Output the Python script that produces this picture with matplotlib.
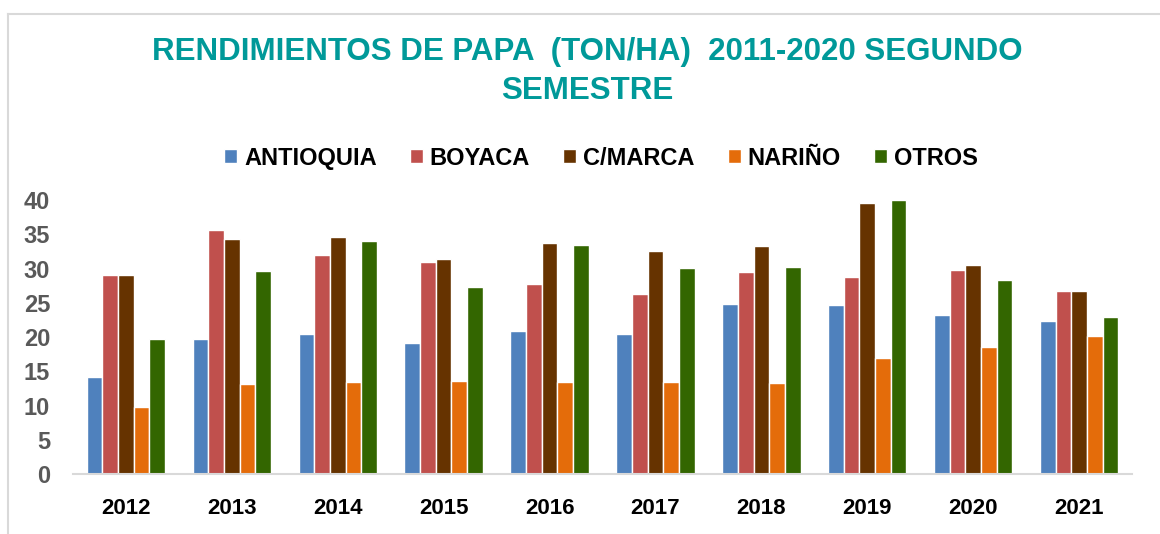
import matplotlib
matplotlib.use("Agg")
import matplotlib.pyplot as plt
from matplotlib.lines import Line2D
import numpy as np

years = ['2012', '2013', '2014', '2015', '2016', '2017', '2018', '2019', '2020', '2021']
departamentos = ['ANTIOQUIA', 'BOYACA', 'C/MARCA', 'NARIÑO', 'OTROS']

antioquia = [14.2, 19.8, 20.4, 19.2, 20.9, 20.5, 24.8, 24.7, 23.2, 22.4]
boyaca = [29.0, 35.6, 32.0, 30.9, 27.7, 26.3, 29.5, 28.7, 29.8, 26.8]
cmarca = [29.1, 34.3, 34.6, 31.4, 33.8, 32.6, 33.3, 39.6, 30.5, 26.8]
narino = [9.8, 13.1, 13.5, 13.6, 13.4, 13.4, 13.3, 16.9, 18.6, 20.2]
otros = [19.8, 29.7, 34.0, 27.3, 33.5, 30.1, 30.2, 40.0, 28.4, 22.9]

colores = ['#4f81bd', '#c0504d', '#663300', '#e46c0a', '#336600']

series = [antioquia, boyaca, cmarca, narino, otros]

fuente = ['Liberation Sans', 'DejaVu Sans']

fig = plt.figure(figsize=(11.6, 5.34), dpi=100)
ax = fig.add_axes([0.0629, 0.1118, 0.913, 0.5137])

x = np.arange(len(years))
w = 0.148
for i, (vals, nombre, col) in enumerate(zip(series, departamentos, colores)):
    ax.bar(x + (i - 2) * w, vals, width=w, color=col, edgecolor='white',
           linewidth=1.0, label=nombre, clip_on=False, zorder=3)

ax.set_xlim(-0.5, len(years) - 0.5)
ax.set_ylim(0, 40)
ax.set_yticks(range(0, 45, 5))
ax.set_xticks(x)
ax.set_xticklabels(years)

for s in ['top', 'right', 'left']:
    ax.spines[s].set_visible(False)
ax.spines['bottom'].set_color('#d9d9d9')
ax.spines['bottom'].set_linewidth(1.5)
ax.spines['bottom'].set_zorder(4)

ax.tick_params(axis='both', length=0)
ax.tick_params(axis='y', pad=16.5)
ax.tick_params(axis='x', pad=17)
for lab in ax.get_yticklabels():
    lab.set_fontfamily(fuente)
    lab.set_fontweight('bold')
    lab.set_fontsize(17)
    lab.set_color('#595959')
for lab in ax.get_xticklabels():
    lab.set_fontfamily(fuente)
    lab.set_fontweight('bold')
    lab.set_fontsize(16)
    lab.set_color('black')

fig.text(0.506, 0.866,
         'RENDIMIENTOS DE PAPA  (TON/HA)  2011-2020 SEGUNDO\nSEMESTRE',
         ha='center', va='center', fontsize=22.5, fontweight='bold',
         color='#009999', linespacing=1.4, family=fuente)

leg = fig.legend(loc='center', bbox_to_anchor=(0.518, 0.704), ncol=5,
                 frameon=False, handlelength=0.55, handleheight=0.55,
                 handletextpad=0.3, columnspacing=1.4,
                 prop={'family': fuente, 'weight': 'bold', 'size': 17})

# borde gris del recuadro del grafico
fig.add_artist(Line2D([8 / 1160, 8 / 1160], [0, 1 - 14 / 534],
                      transform=fig.transFigure, color='#d9d9d9', lw=1.5))
fig.add_artist(Line2D([8 / 1160, 1], [1 - 14 / 534, 1 - 14 / 534],
                      transform=fig.transFigure, color='#d9d9d9', lw=1.5))

fig.savefig('out.png', dpi=100, facecolor='white')
